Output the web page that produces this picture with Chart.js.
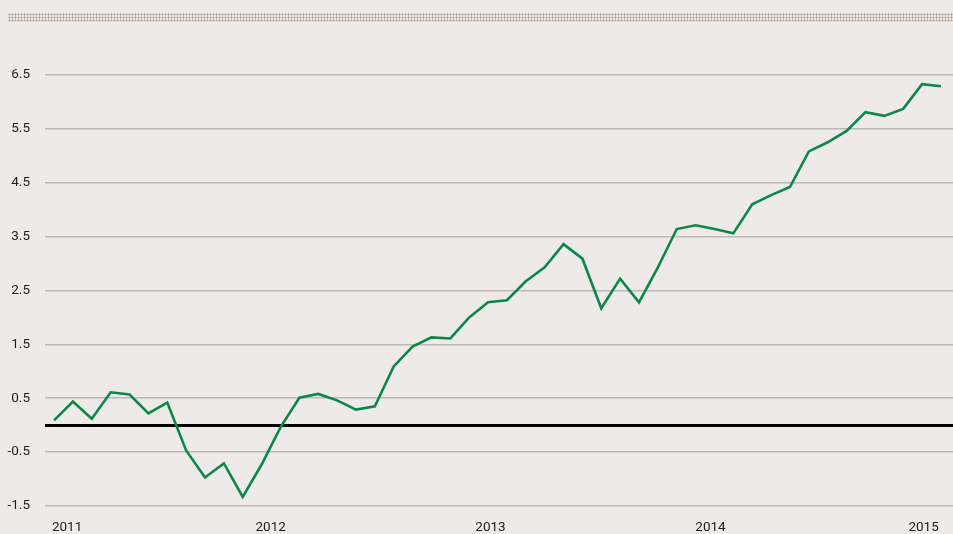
<!DOCTYPE html>
<html>
<head>
<meta charset="utf-8">
<script src="https://cdn.jsdelivr.net/npm/chart.js@4"></script>
<style>
  html, body { margin: 0; padding: 0; background: #eeeae7; }
  #wrap { position: relative; width: 953px; height: 534px; overflow: hidden; }
  #dots {
    position: absolute; top: 13px; left: 8px; width: 945px; height: 9px;
    background-image: radial-gradient(circle, #bba999 0.9px, transparent 1.3px);
    background-size: 3px 3px;
  }
  canvas { position: absolute; top: 0; left: 0; }
</style>
</head>
<body>
<div id="wrap">
  <div id="dots"></div>
  <canvas id="chartCanvas" width="953" height="534"></canvas>
</div>
<script>
// monthly values, 48 points
const values = [
  0.09, 0.44, 0.12, 0.61, 0.57, 0.22, 0.42, -0.47, -0.97, -0.71, -1.33, -0.73,
  -0.04, 0.51, 0.58, 0.46, 0.29, 0.35, 1.09, 1.46, 1.63, 1.61, 2.00, 2.28,
  2.32, 2.67, 2.93, 3.36, 3.09, 2.17, 2.72, 2.28, 2.93, 3.64, 3.71, 3.64,
  3.56, 4.10, 4.27, 4.42, 5.08, 5.25, 5.46, 5.81, 5.74, 5.87, 6.33, 6.29
];
const yearLabels = ["2011", "2012", "2013", "2014", "2015"];
const yearPos = [0.69, 11.48, 23.13, 34.79, 46.08];
const yTicks = [-1.5, -0.5, 0, 0.5, 1.5, 2.5, 3.5, 4.5, 5.5, 6.5];

const points = values.map((v, i) => ({ x: i, y: v }));

Chart.defaults.font.family = "Roboto, 'Liberation Sans', sans-serif";
Chart.defaults.font.size = 13.5;
Chart.defaults.color = "#1e1e1e";

new Chart(document.getElementById("chartCanvas"), {
  type: "line",
  data: {
    datasets: [{
      data: points,
      borderColor: "#0b8848",
      borderWidth: 2.6,
      pointRadius: 0,
      tension: 0,
      fill: false
    }]
  },
  options: {
    responsive: false,
    animation: false,
    layout: { padding: { top: 48, right: 0, left: 0, bottom: 0 } },
    plugins: { legend: { display: false }, tooltip: { enabled: false } },
    scales: {
      x: {
        type: "linear",
        min: -0.48,
        max: 47.64,
        afterBuildTicks: (scale) => { scale.ticks = yearPos.map(v => ({ value: v })); },
        afterFit: (scale) => { scale.height = 28; },
        grid: { display: false, drawTicks: false },
        border: { display: false },
        ticks: {
          padding: 14,
          maxRotation: 0,
          autoSkip: false,
          callback: (v, i) => yearLabels[i]
        }
      },
      y: {
        min: -1.5,
        max: 7,
        afterBuildTicks: (scale) => { scale.ticks = yTicks.map(v => ({ value: v })); },
        afterFit: (scale) => { scale.width = 45; },
        grid: {
          drawTicks: false,
          color: (ctx) => ctx.tick && ctx.tick.value === 0 ? "#000" : "#bcb8b5",
          lineWidth: (ctx) => ctx.tick && ctx.tick.value === 0 ? 3 : 1.5
        },
        border: { display: false },
        ticks: {
          padding: 15,
          callback: (v) => v === 0 ? "" : v.toFixed(1)
        }
      }
    }
  }
});
</script>
</body>
</html>
